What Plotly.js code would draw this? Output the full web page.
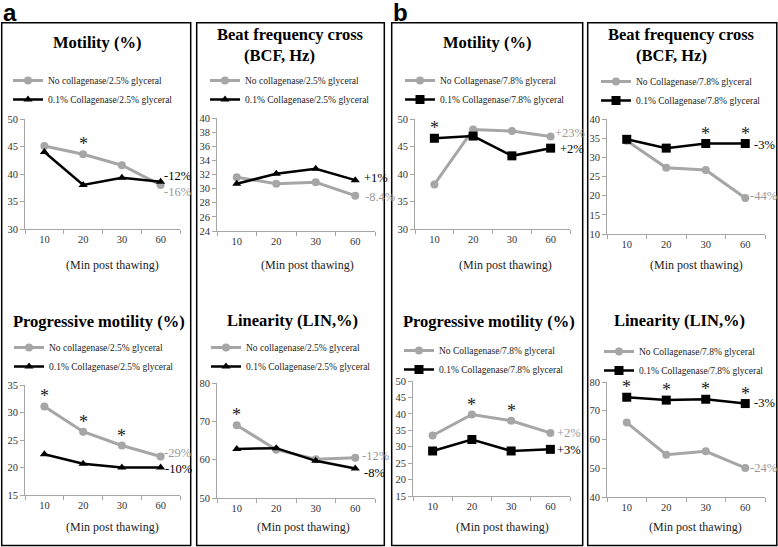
<!DOCTYPE html>
<html>
<head>
<meta charset="utf-8">
<script src="https://cdn.plot.ly/plotly-3.0.1.min.js"></script>
<style>
  body { margin: 0; background: #fff; }
  #chart { width: 778px; height: 547px; }
</style>
</head>
<body>
<div id="chart"></div>
<script>
// minutes post thawing (category axis)
let mins = ["10", "20", "30", "60"];

let namesA = ["No collagenase/2.5% glyceral", "0.1% Collagenase/2.5% glyceral"];
let namesB = ["No Collagenase/7.8% glyceral", "0.1% Collagenase/7.8% glyceral"];

// a: 2.5% glycerol
let aMotNo = [45.1, 43.6, 41.6, 38.0];
let aMotCol = [44.0, 38.0, 39.3, 38.6];
let aBcfNo = [31.6, 30.7, 30.9, 29.0];
let aBcfCol = [30.7, 32.1, 32.8, 31.2];
let aProgNo = [31.1, 26.5, 24.0, 22.0];
let aProgCol = [22.4, 20.7, 20.0, 20.0];
let aLinNo = [69.0, 62.6, 60.1, 60.5];
let aLinCol = [62.8, 63.0, 59.7, 57.7];

// b: 7.8% glycerol
let bMotNo = [38.1, 48.1, 47.8, 46.8];
let bMotCol = [46.5, 46.9, 43.3, 44.7];
let bBcfNo = [34.3, 27.3, 26.7, 19.4];
let bBcfCol = [34.7, 32.4, 33.6, 33.6];
let bProgNo = [33.4, 39.8, 37.9, 34.2];
let bProgCol = [28.7, 32.2, 28.7, 29.2];
let bLinNo = [65.9, 54.7, 55.9, 50.1];
let bLinCol = [74.7, 73.7, 74.0, 72.5];

// change 10 -> 60 min (no collagenase, collagenase)
let aMotPct = ["-16%", "-12%"];
let aBcfPct = ["-8.4%", "+1%"];
let aProgPct = ["-29%", "-10%"];
let aLinPct = ["-12%", "-8%"];
let bMotPct = ["+23%", "+2%"];
let bBcfPct = ["-44%", "-3%"];
let bProgPct = ["+2%", "+3%"];
let bLinPct = ["-24%", "-3%"];

// significant time points (*)
let aMotSig = ["20"];
let aBcfSig = [];
let aProgSig = ["10", "20", "30"];
let aLinSig = ["10"];
let bMotSig = ["10"];
let bBcfSig = ["30", "60"];
let bProgSig = ["20", "30"];
let bLinSig = ["10", "20", "30", "60"];

const W = 778, H = 547;
const serif = "Liberation Serif, Times New Roman, serif";
const grey = "#a6a6a6";
let px = v => v / W;
let py = v => 1 - v / H;

let panels = [
  {no: aMotNo, col: aMotCol, sig: aMotSig, pct: aMotPct, names: namesA, sym: "triangle-up",
   box: [25, 180, 119, 229], range: [30, 50], dtick: 5,
   title: ["Motility (%)"], tx: [97], ty: [43], xt: [112, 265], lg: [8, 90], shift: [[2, -7], [2, 6]]},
  {no: aBcfNo, col: aBcfCol, sig: aBcfSig, pct: aBcfPct, names: namesA, sym: "triangle-up",
   box: [217, 375, 118, 231], range: [24, 40], dtick: 2,
   title: ["Beat frequency cross", "(BCF, Hz)"], tx: [290, 279], ty: [45, 45], xt: [307, 265], lg: [205, 90], shift: [[9, -1], [8, 2]]},
  {no: bMotNo, col: bMotCol, sig: bMotSig, pct: bMotPct, names: namesB, sym: "square",
   box: [415, 570, 119, 229], range: [30, 50], dtick: 5,
   title: ["Motility (%)"], tx: [487], ty: [43], xt: [505, 265], lg: [400, 90], shift: [[3, 4], [8, -1]]},
  {no: bBcfNo, col: bBcfCol, sig: bBcfSig, pct: bBcfPct, names: namesB, sym: "square",
   box: [607, 765, 119, 234], range: [10, 40], dtick: 5,
   title: ["Beat frequency cross", "(BCF, Hz)"], tx: [681, 671], ty: [45, 45], xt: [696, 265], lg: [596, 91], shift: [[4, 2], [8, -1]]},
  {no: aProgNo, col: aProgCol, sig: aProgSig, pct: aProgPct, names: namesA, sym: "triangle-up",
   box: [25, 180, 385, 495], range: [15, 35], dtick: 5,
   title: ["Progressive motility (%)"], tx: [99], ty: [321], xt: [112, 527], lg: [9, 357], shift: [[2, 4], [3, -1]]},
  {no: aLinNo, col: aLinCol, sig: aLinSig, pct: aLinPct, names: namesA, sym: "triangle-up",
   box: [217, 375, 383, 498], range: [50, 80], dtick: 10,
   title: ["Linearity (LIN,%)"], tx: [292], ty: [320], xt: [303, 527], lg: [206, 357], shift: [[6, 2], [8, -5]]},
  {no: bProgNo, col: bProgCol, sig: bProgSig, pct: bProgPct, names: namesB, sym: "square",
   box: [413, 570, 381, 496], range: [15, 50], dtick: 5,
   title: ["Progressive motility (%)"], tx: [489], ty: [321], xt: [502, 527], lg: [399, 360], shift: [[6, 0], [6, -1]]},
  {no: bLinNo, col: bLinCol, sig: bLinSig, pct: bLinPct, names: namesB, sym: "square",
   box: [607, 765, 382, 497], range: [40, 80], dtick: 10,
   title: ["Linearity (LIN,%)"], tx: [679], ty: [320], xt: [695, 527], lg: [599, 361], shift: [[4, 0], [8, 1]]}
];

let data = [];
let annotations = [];
let layout = {
  width: W, height: H,
  margin: {l: 0, r: 0, t: 0, b: 0},
  paper_bgcolor: "#fff", plot_bgcolor: "#fff",
  font: {family: serif, color: "#222"},
  showlegend: true,
  shapes: []
};

panels.forEach((p, i) => {
  let n = i === 0 ? "" : String(i + 1);
  let xa = "x" + n, ya = "y" + n, lg = "legend" + n;

  data.push({
    x: mins, y: p.no, xaxis: xa, yaxis: ya, legend: lg, name: p.names[0],
    type: "scatter", mode: "lines+markers",
    line: {color: grey, width: 3},
    marker: {symbol: "circle", size: 8, color: grey}
  });
  data.push({
    x: mins, y: p.col, xaxis: xa, yaxis: ya, legend: lg, name: p.names[1],
    type: "scatter", mode: "lines+markers",
    line: {color: "#000", width: 2.5},
    marker: {symbol: p.sym, size: p.sym === "square" ? 9 : 8, color: "#000"}
  });

  layout["xaxis" + n] = {
    domain: [px(p.box[0]), px(p.box[1])], anchor: ya,
    type: "category", range: [-0.5, 3.5], tickson: "boundaries",
    showline: true, linecolor: grey, linewidth: 1,
    ticks: "outside", ticklen: 4, tickcolor: grey,
    showgrid: false, zeroline: false, fixedrange: true,
    tickfont: {family: serif, size: 10.5, color: "#333"}
  };
  layout["yaxis" + n] = {
    domain: [py(p.box[3]), py(p.box[2])], anchor: xa,
    range: p.range, tick0: p.range[0], dtick: p.dtick,
    showline: true, linecolor: grey, linewidth: 1,
    ticks: "outside", ticklen: 4, tickcolor: grey,
    showgrid: false, zeroline: false, fixedrange: true,
    tickfont: {family: serif, size: 10.5, color: "#333"}
  };
  layout[lg] = {
    x: px(p.lg[0]), y: py(p.lg[1]), xanchor: "left", yanchor: "middle",
    bgcolor: "rgba(0,0,0,0)", traceorder: "normal",
    font: {family: serif, size: 9.5, color: "#222"}
  };

  // panel titles (two-line titles stacked: first sits on, second hangs from, the same y)
  p.title.forEach((t, k) => {
    let anchor = p.title.length === 1 ? "middle" : (k === 0 ? "bottom" : "top");
    annotations.push({
      xref: "paper", yref: "paper", x: px(p.tx[k]), y: py(p.ty[k]),
      xanchor: "center", yanchor: anchor, showarrow: false, borderpad: 0,
      text: "<b>" + t + "</b>", font: {family: serif, size: 16.5, color: "#000"}
    });
  });

  // x axis title
  annotations.push({
    xref: "paper", yref: "paper", x: px(p.xt[0]), y: py(p.xt[1]),
    xanchor: "center", yanchor: "middle", showarrow: false,
    text: "(Min post thawing)", font: {family: serif, size: 12, color: "#222"}
  });

  // % change labels at 60 min (category index 3)
  [p.no, p.col].forEach((vals, k) => {
    annotations.push({
      xref: xa, yref: ya, x: mins.length - 1, y: vals[vals.length - 1],
      xanchor: "left", yanchor: "middle", showarrow: false, borderpad: 0,
      xshift: p.shift[k][0], yshift: p.shift[k][1],
      text: p.pct[k], font: {family: serif, size: 12.5, color: k ? "#000" : "#999"}
    });
  });

  // significance stars
  p.sig.forEach(c => {
    let j = mins.indexOf(c);
    annotations.push({
      xref: xa, yref: ya, x: j, y: Math.max(p.no[j], p.col[j]),
      xanchor: "center", yanchor: "middle", showarrow: false, yshift: 10,
      text: "*", font: {family: serif, size: 18, color: "#222"}
    });
  });
});

// column frames
[[1.7, 190.7], [196.7, 384.3], [391.7, 582.7], [587.7, 776.8]].forEach(b => {
  layout.shapes.push({
    type: "rect", xref: "paper", yref: "paper",
    x0: px(b[0]), x1: px(b[1]), y0: py(545.5), y1: py(22.7),
    line: {color: "#000", width: 1.5}, fillcolor: "rgba(0,0,0,0)"
  });
});

// panel letters
annotations.push({xref: "paper", yref: "paper", x: px(1), y: py(-3), xanchor: "left", yanchor: "top",
  showarrow: false, text: "<b>a</b>", font: {family: "Liberation Sans, Arial, sans-serif", size: 24, color: "#000"}});
annotations.push({xref: "paper", yref: "paper", x: px(391), y: py(-3), xanchor: "left", yanchor: "top",
  showarrow: false, text: "<b>b</b>", font: {family: "Liberation Sans, Arial, sans-serif", size: 24, color: "#000"}});

layout.annotations = annotations;

Plotly.newPlot("chart", data, layout, {displayModeBar: false, staticPlot: true});
</script>
</body>
</html>
